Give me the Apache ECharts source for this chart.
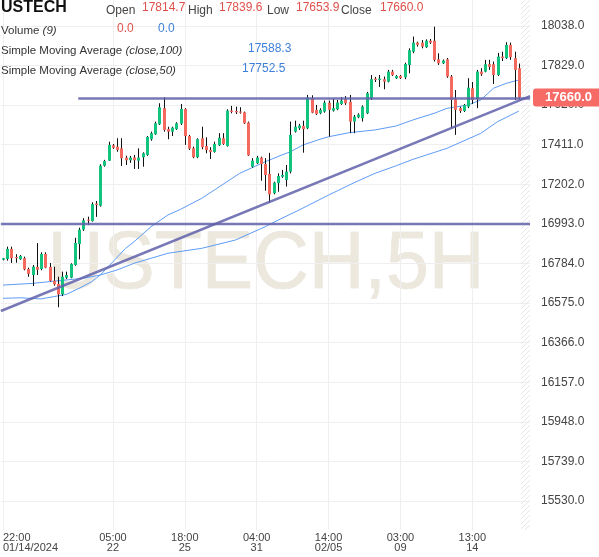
<!DOCTYPE html>
<html>
<head>
<meta charset="utf-8">
<script src="https://cdn.jsdelivr.net/npm/echarts@6/dist/echarts.min.js"></script>
<style>
html, body { margin: 0; padding: 0; background: #fff; }
#chart { width: 599px; height: 557px; }
</style>
</head>
<body>
<div id="chart"></div>
<script>
// USTECH 5H candles (oldest first)
var opens = [16804, 16808, 16861, 16818, 16806, 16812, 16755, 16723, 16766, 16755,
  16834, 16766, 16693, 16676, 16621, 16709, 16709, 16776, 16887, 16963,
  17015, 17008, 17100, 17089, 17300, 17327, 17408, 17401, 17392, 17343,
  17329, 17344, 17327, 17345, 17357, 17440, 17466, 17519, 17604, 17494,
  17480, 17493, 17522, 17600, 17457, 17392, 17345, 17445, 17404, 17383,
  17373, 17408, 17445, 17404, 17591, 17589, 17586, 17582, 17528, 17295,
  17313, 17343, 17309, 17257, 17155, 17208, 17242, 17225, 17269, 17480,
  17498, 17510, 17498, 17656, 17595, 17577, 17586, 17633, 17591, 17598,
  17626, 17651, 17638, 17533, 17556, 17551, 17577, 17656, 17760, 17753,
  17757, 17744, 17797, 17762, 17774, 17767, 17832, 17902, 17950, 17950,
  17926, 17960, 17960, 17862, 17841, 17862, 17771, 17653, 17604, 17589,
  17612, 17709, 17653, 17797, 17797, 17836, 17836, 17779, 17876, 17868,
  17938, 17868, 17814.7];
var highs = [16813, 16873, 16873, 16833, 16829, 16820, 16762, 16776, 16892, 16843,
  16843, 16787, 16767, 16714, 16741, 16741, 16785, 16920, 16973, 17023,
  17031, 17107, 17114, 17308, 17331, 17427, 17415, 17445, 17445, 17353,
  17352, 17357, 17392, 17371, 17457, 17480, 17533, 17630, 17662, 17506,
  17506, 17530, 17626, 17604, 17463, 17401, 17445, 17506, 17450, 17398,
  17427, 17472, 17472, 17598, 17616, 17612, 17609, 17586, 17533, 17340,
  17352, 17348, 17340, 17368, 17216, 17260, 17278, 17304, 17533, 17538,
  17521, 17538, 17674, 17672, 17621, 17604, 17644, 17644, 17653, 17647,
  17663, 17668, 17674, 17568, 17577, 17619, 17690, 17779, 17769, 17779,
  17771, 17806, 17806, 17779, 17779, 17844, 17920, 17982, 17955, 17964,
  17967, 17969, 18034, 17894, 17861, 17869, 17779, 17700, 17612, 17626,
  17762, 17742, 17806, 17815, 17859, 17859, 17850, 17896, 17902, 17952,
  17950, 17902, 17839.6];
var lows = [16800, 16799, 16787, 16788, 16803, 16748, 16714, 16665, 16723, 16748,
  16759, 16688, 16667, 16553, 16612, 16702, 16706, 16772, 16806, 16956,
  16987, 17005, 17030, 17084, 17295, 17325, 17389, 17374, 17299, 17304,
  17315, 17283, 17283, 17295, 17352, 17432, 17463, 17515, 17480, 17440,
  17457, 17489, 17515, 17410, 17383, 17340, 17340, 17387, 17366, 17336,
  17369, 17404, 17410, 17401, 17577, 17573, 17575, 17521, 17352, 17290,
  17309, 17221, 17168, 17105, 17149, 17163, 17236, 17190, 17260, 17475,
  17489, 17369, 17493, 17577, 17568, 17572, 17580, 17454, 17586, 17593,
  17621, 17621, 17472, 17472, 17551, 17533, 17573, 17647, 17742, 17716,
  17704, 17740, 17774, 17758, 17758, 17757, 17788, 17894, 17929, 17920,
  17922, 17943, 17850, 17832, 17837, 17764, 17498, 17463, 17579, 17584,
  17604, 17626, 17604, 17774, 17793, 17806, 17732, 17774, 17853, 17864,
  17859, 17647, 17653.9];
var closes = [16811.5, 16861, 16812, 16812, 16824, 16753, 16729, 16767, 16751, 16834,
  16762, 16693, 16674, 16621, 16714, 16723, 16781, 16892, 16963, 17012,
  17010, 17097, 17093, 17300, 17325, 17410, 17395, 17383, 17340, 17329,
  17343, 17329, 17343, 17366, 17452, 17472, 17524, 17609, 17489, 17480,
  17501, 17524, 17600, 17457, 17390, 17345, 17440, 17398, 17383, 17373,
  17415, 17448, 17415, 17591, 17584, 17582, 17580, 17524, 17355, 17327,
  17343, 17309, 17251, 17149, 17211, 17246, 17251, 17269, 17463, 17506,
  17512, 17493, 17660, 17580, 17573, 17595, 17633, 17595, 17604, 17633,
  17644, 17630, 17533, 17559, 17570, 17612, 17683, 17757, 17753, 17760,
  17744, 17797, 17779, 17774, 17763, 17837, 17910, 17950, 17938, 17929,
  17960, 17950, 17859, 17841, 17855, 17771, 17647, 17595, 17589, 17621,
  17712, 17647, 17797, 17783, 17836, 17822, 17779, 17876, 17868, 17938,
  17873, 17806, 17660.0];

// moving averages sampled along the picture: [candle index, price]
var sma50 = [[0, 16600], [4, 16603], [9, 16597], [12, 16609], [15, 16621], [18, 16653],
  [21, 16688], [23, 16723], [26, 16793], [29, 16864], [31, 16899], [35, 16978],
  [39, 17040], [42, 17070], [47, 17128], [50, 17172], [56, 17260], [62, 17321],
  [66, 17357], [68, 17374], [71, 17410], [75, 17440], [77, 17453], [82, 17475],
  [88, 17489], [93, 17510], [97, 17542], [102, 17577], [105, 17603], [110, 17621],
  [113, 17647], [116, 17709], [119, 17735], [122, 17752.5]];
var sma100 = [[0, 16670], [7, 16679], [11, 16688], [15, 16697], [19, 16706], [23, 16723],
  [27, 16750], [31, 16785], [39, 16838], [47, 16864], [55, 16908], [62, 16978],
  [66, 17023], [70, 17066], [77, 17145], [83, 17210], [88, 17260], [93, 17300],
  [97, 17334], [105, 17392], [113, 17471], [117, 17533], [122, 17588.3]];

// drawn trend lines: [candle index, price]
var trendLine = [[-0.5, 16533], [124.65, 17668]];
var resistance = [[17.8, 17655], [124.65, 17655]];
var support = [[-0.5, 16993], [124.65, 16993]];

var tickIdx = [0, 26, 43, 60, 77, 94, 111];
var tickLabels = ['22:00\n01/14/2024', '05:00\n22', '18:00\n25', '04:00\n31', '14:00\n02/05', '03:00\n09', '13:00\n14'];
var priceTicks = [15530, 15739, 15948, 16157, 16366, 16575, 16784, 16993, 17202, 17411, 17620, 17829, 18038];

var lastPrice = 17660.0;
var upColor = '#12c47e';
var downColor = '#f46a5f';
var lineColor = 'rgba(96, 96, 170, 0.85)';
var maColor = '#5e9cf5';

var candles = opens.map(function (o, i) {
  return [i, o, closes[i], lows[i], highs[i]];
});

function renderCandle(params, api) {
  var i = api.value(0);
  var o = api.value(1), c = api.value(2), l = api.value(3), h = api.value(4);
  var po = api.coord([i, o]), pc = api.coord([i, c]);
  var pl = api.coord([i, l]), ph = api.coord([i, h]);
  var cx = Math.round(po[0]) + 0.5;
  var top = Math.min(po[1], pc[1]);
  var bh = Math.max(Math.abs(po[1] - pc[1]), 1);
  return {
    type: 'group',
    children: [
      { type: 'line', shape: { x1: cx, y1: ph[1], x2: cx, y2: pl[1] }, style: { stroke: '#111', lineWidth: 1 } },
      { type: 'rect', shape: { x: cx - 1.5, y: top, width: 3, height: bh }, style: { fill: c >= o ? upColor : downColor } }
    ]
  };
}

// hatched strip at the right edge of the plot
var hatch = document.createElement('canvas');
hatch.width = 5; hatch.height = 5;
var hc = hatch.getContext('2d');
hc.strokeStyle = '#e6e6e6';
hc.lineWidth = 1;
hc.beginPath();
hc.moveTo(0, 5); hc.lineTo(5, 0);
hc.moveTo(-1, 1); hc.lineTo(1, -1);
hc.moveTo(4, 6); hc.lineTo(6, 4);
hc.stroke();

var chart = echarts.init(document.getElementById('chart'), null, { renderer: 'canvas' });

var headFont = '12px "Liberation Sans", Arial, sans-serif';
function txt(x, y, text, color, font, extra) {
  var st = { text: text, fill: color, font: font || headFont, verticalAlign: 'middle' };
  if (extra) { for (var k in extra) st[k] = extra[k]; }
  return { type: 'text', x: x, y: y, z: 100, silent: true, style: st };
}
var rich = {
  n: { fontSize: 11.5, fontFamily: 'Liberation Sans', color: '#333' },
  i: { fontSize: 11.5, fontFamily: 'Liberation Sans', color: '#333', fontStyle: 'italic' }
};

chart.setOption({
  animation: false,
  backgroundColor: '#fff',
  grid: { left: 0, right: 69, top: 0, bottom: 27 },
  xAxis: {
    type: 'value',
    min: -0.5,
    max: 124.65,
    axisLine: { show: false },
    axisTick: { show: false, customValues: tickIdx },
    splitLine: { show: true, lineStyle: { color: '#efefef', width: 1 } },
    axisLabel: {
      customValues: tickIdx,
      alignMinLabel: 'left',
      margin: 3,
      color: '#444',
      fontSize: 11,
      lineHeight: 10,
      fontFamily: 'Liberation Sans',
      formatter: function (v) {
        var k = tickIdx.indexOf(Math.round(v));
        return k >= 0 ? tickLabels[k] : '';
      }
    }
  },
  yAxis: {
    type: 'value',
    position: 'right',
    min: 15377,
    max: 18175,
    axisLine: { show: false },
    axisTick: { show: false, customValues: priceTicks },
    splitLine: { show: true, lineStyle: { color: '#efefef', width: 1 } },
    axisLabel: {
      customValues: priceTicks,
      margin: 11,
      color: '#444',
      fontSize: 12,
      fontFamily: 'Liberation Sans',
      formatter: function (v) { return v.toFixed(1); }
    }
  },
  graphic: [
    {
      type: 'text', z: 0, silent: true,
      x: 266, y: 265, scaleX: 0.94,
      style: {
        text: 'USTECH,5H', fill: '#ece8de', stroke: '#e3ded2', lineWidth: 0.5,
        font: '82px "Liberation Sans", Arial, sans-serif',
        align: 'center', verticalAlign: 'middle'
      }
    },
    {
      type: 'rect', z: 1, silent: true,
      shape: { x: 521, y: 0, width: 9, height: 530 },
      style: { fill: { image: hatch, repeat: 'repeat' } }
    },
    txt(1, 8, 'USTECH', '#111', 'bold 16px "Liberation Sans", Arial, sans-serif'),
    txt(106, 11, 'Open', '#444'),
    txt(142, 8, '17814.7', '#e0504a'),
    txt(188, 11, 'High', '#444'),
    txt(219, 8, '17839.6', '#e0504a'),
    txt(267, 11, 'Low', '#444'),
    txt(296, 8, '17653.9', '#e0504a'),
    txt(341, 11, 'Close', '#444'),
    txt(380, 8, '17660.0', '#e0504a'),
    txt(1, 31, '{n|Volume }{i|(9)}', '#333', null, { rich: rich }),
    txt(117, 29, '0.0', '#e0504a'),
    txt(158, 29, '0.0', '#3d7fd9'),
    txt(1, 51, '{n|Simple Moving Average }{i|(close,100)}', '#333', null, { rich: rich }),
    txt(248, 49, '17588.3', '#3d7fd9'),
    txt(1, 71, '{n|Simple Moving Average }{i|(close,50)}', '#333', null, { rich: rich }),
    txt(242, 69, '17752.5', '#3d7fd9')
  ],
  series: [
    {
      name: 'SMA100', type: 'line', data: sma100, showSymbol: false, z: 3,
      lineStyle: { color: maColor, width: 1 }
    },
    {
      name: 'SMA50', type: 'line', data: sma50, showSymbol: false, z: 3,
      lineStyle: { color: maColor, width: 1 }
    },
    {
      name: 'USTECH', type: 'custom', renderItem: renderCandle, data: candles, z: 4,
      encode: { x: 0, y: [1, 2, 3, 4] },
      clip: true,
      markLine: {
        silent: true,
        symbol: ['none', 'none'],
        lineStyle: { color: 'rgba(0,0,0,0)', width: 0 },
        label: {
          position: 'end', distance: 3,
          formatter: lastPrice.toFixed(1),
          color: '#fff', backgroundColor: '#f76b66',
          padding: [3, 12, 2, 12], borderRadius: 3,
          fontSize: 13, fontWeight: 'bold', fontFamily: 'Liberation Sans'
        },
        data: [{ yAxis: lastPrice }]
      }
    },
    {
      name: 'trend', type: 'line', data: trendLine, showSymbol: false, z: 5,
      lineStyle: { color: lineColor, width: 2.5 }
    },
    {
      name: 'resistance', type: 'line', data: resistance, showSymbol: false, z: 5,
      lineStyle: { color: lineColor, width: 2.5 }
    },
    {
      name: 'support', type: 'line', data: support, showSymbol: false, z: 5,
      lineStyle: { color: lineColor, width: 2.5 }
    }
  ]
});
</script>
</body>
</html>
